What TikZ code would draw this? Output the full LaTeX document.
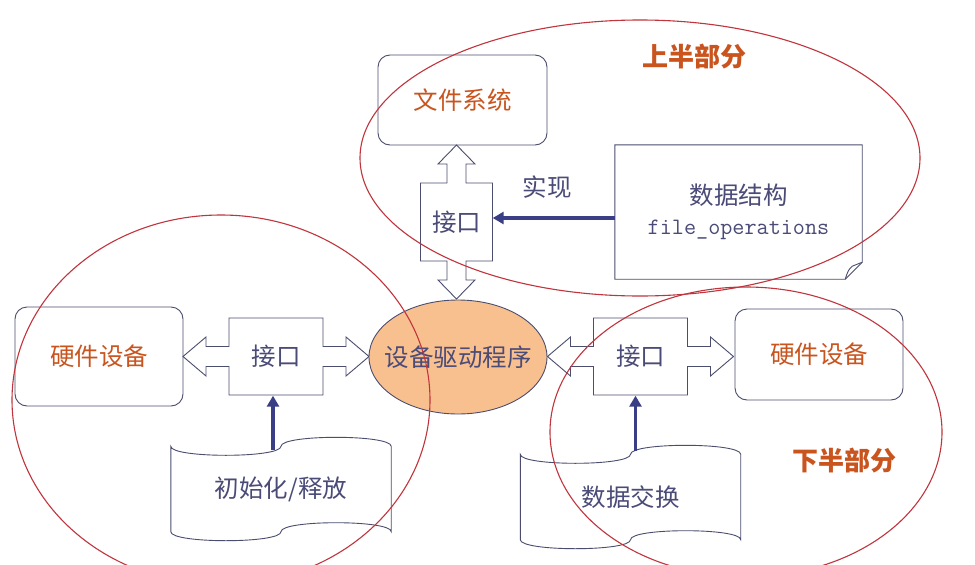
\documentclass[tikz,border=0pt]{standalone}
\usepackage{fontspec}
\setmainfont{Noto Sans CJK SC}
\usetikzlibrary{arrows.meta, shapes.geometric}
\definecolor{inkline}{HTML}{4A4D6E}
\definecolor{inktext}{HTML}{4B4B78}
\definecolor{inkorange}{HTML}{C9541E}
\definecolor{ringred}{HTML}{C0353D}
\definecolor{pullnavy}{HTML}{3A3F85}
\definecolor{drvfill}{HTML}{F9C08F}
% horizontal interface: body with a hollow arrow on both sides
\newcommand{\hport}[2]{%
  \node[port] (#1) at #2 {接口};
  \draw[boxline, shift={#2}]
    (-47,-38.5) -- (47,-38.5) -- (47,-10) -- (70,-10) -- (70,-19.5) -- (93,0)
    -- (70,19.5) -- (70,10) -- (47,10) -- (47,38.5) -- (-47,38.5) -- (-47,10)
    -- (-70,10) -- (-70,19.5) -- (-93,0) -- (-70,-19.5) -- (-70,-10)
    -- (-47,-10) -- cycle;}
% punched tape
\newcommand{\tape}[3]{%
  \node[tapebox] (#1) at #2 {#3};
  \draw[boxline] (#1.north west) .. controls +(0,12) and +(0,12) .. (#1.north)
    .. controls +(0,-12) and +(0,-12) .. (#1.north east) -- (#1.south east)
    .. controls +(0,-12) and +(0,-12) .. (#1.south)
    .. controls +(0,12) and +(0,12) .. (#1.south west) -- cycle;}

\begin{document}
\begin{tikzpicture}[x=1pt, y=-1pt,
    font=\fontsize{24.5pt}{30pt}\selectfont, text=inktext,
    boxline/.style={draw=inkline, line width=0.9pt},
    hwbox/.style={boxline, rounded corners=12pt, text=inkorange, minimum width=168},
    port/.style={inner sep=0pt, minimum width=94, minimum height=78},
    tapebox/.style={inner sep=0pt, minimum width=220, minimum height=85},
    driver/.style={ellipse, boxline, fill=drvfill, minimum width=178, minimum height=114, inner sep=0pt},
    pull/.style={draw=pullnavy, line width=3.8pt, -{Triangle[length=11pt,width=12pt]}},
    part/.style={text=inkorange, font=\fontsize{26pt}{30pt}\selectfont\bfseries},
    ring/.style={draw=ringred, line width=1.1pt}]
  \path[use as bounding box, fill=white] (0,0) rectangle (975,565);

  % upper part
  \node[hwbox, minimum width=169, minimum height=90] (fs) at (462.5,100) {文件系统};
  \node[port, minimum width=72] (portT) at (456.5,222) {接口};
  \draw[boxline, shift={(456.5,222)}]
    (-36,-39) -- (-9.5,-39) -- (-9.5,-58) -- (-18.5,-58) -- (0,-77) -- (18.5,-58)
    -- (9.5,-58) -- (9.5,-39) -- (36,-39) -- (36,39) -- (9.5,39) -- (9.5,58)
    -- (18.5,58) -- (0,77) -- (-18.5,58) -- (-9.5,58) -- (-9.5,39) -- (-36,39) -- cycle;
  \node[inner sep=0pt, minimum width=247, minimum height=134, align=center] (ds) at (738.5,212)
    {数据结构\\{\fontsize{23.5pt}{30pt}\selectfont\ttfamily file\_operations}};
  \draw[boxline] (ds.north west) -- (ds.north east) -- ([yshift=17pt]ds.south east)
    -- ([xshift=-17pt]ds.south east) -- (ds.south west) -- cycle;
  \draw[boxline] ([xshift=-17pt]ds.south east) .. controls ([xshift=-14pt,yshift=9pt]ds.south east)
    .. ([xshift=-10pt,yshift=13pt]ds.south east) -- ([yshift=17pt]ds.south east);
  \node (impl) at (547,187) {实现};
  \coordinate (implfrom) at ([yshift=-6pt]ds.west);
  \draw[pull] (implfrom) -- (implfrom -| portT.east);

  % driver with its two sides
  \node[hwbox, minimum height=99] (hwL) at (99,356.5) {硬件设备};
  \hport{portL}{(276,356.5)}
  \node[driver] (drv) at (458,357) {};
  \node (drvtext) at (drv) {设备驱动程序};
  \hport{portR}{(640.5,356.5)}
  \node[hwbox, minimum height=91] (hwR) at (819,354.5) {硬件设备};

  % lower part
  \tape{initT}{(281,489)}{初始化/释放}
  \tape{swapT}{(630.5,497)}{数据交换}
  \coordinate (initup) at ([xshift=-8pt,yshift=-4pt]initT.north);
  \draw[pull] (initup) -- (initup |- portL.south);
  \coordinate (swapup) at ([xshift=5pt,yshift=3pt]swapT.north);
  \draw[pull] (swapup) -- (swapup |- portR.south);

  \node[part] (upper) at (694,57) {上半部分};
  \node[part] (lower) at (844,461) {下半部分};
  \draw[ring] (640,158) ellipse [x radius=280, y radius=138];
  \draw[ring] (221,400) ellipse [x radius=209, y radius=185];
  \draw[ring] (746,432) ellipse [x radius=196, y radius=145];
\end{tikzpicture}
\end{document}
